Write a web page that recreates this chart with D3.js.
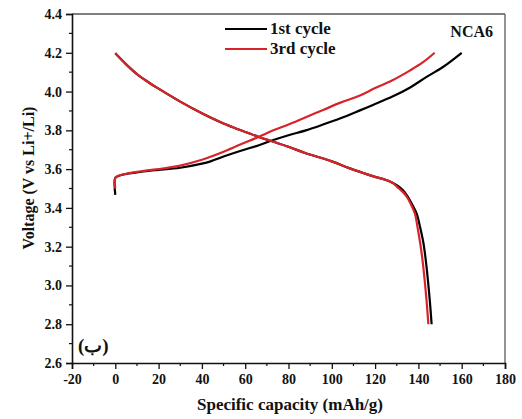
<!DOCTYPE html>
<html>
<head>
<meta charset="utf-8">
<script src="https://cdn.jsdelivr.net/npm/d3@7/dist/d3.min.js"></script>
<style>
  html, body { margin: 0; padding: 0; background: #fff; }
  svg { display: block; }
  text { font-family: "Liberation Serif", "Times New Roman", serif; font-weight: bold; fill: #111; }
</style>
</head>
<body>
<svg id="chart" width="522" height="419"></svg>
<script>
// Charge / discharge profiles (capacity in mAh/g, voltage in V)
const charge1Cap  = [0, 0, 1.5, 5, 10, 16, 20, 30, 40, 44, 50, 58, 66, 73, 80, 88, 96, 104, 113, 119, 128, 136, 144, 151.5, 160];
const charge1Volt = [3.467, 3.555, 3.565, 3.575, 3.583, 3.592, 3.596, 3.607, 3.628, 3.640, 3.665, 3.695, 3.722, 3.750, 3.775, 3.80, 3.83, 3.862, 3.903, 3.931, 3.974, 4.02, 4.077, 4.128, 4.20];

const charge3Cap  = [0, 0, 1.5, 5, 10, 16, 20, 30, 40, 44, 50, 58, 66, 73, 80, 88, 96, 104, 113, 120, 128, 136, 142, 147.5];
const charge3Volt = [3.50, 3.555, 3.566, 3.576, 3.586, 3.595, 3.60, 3.618, 3.648, 3.664, 3.69, 3.728, 3.765, 3.80, 3.83, 3.868, 3.905, 3.943, 3.98, 4.018, 4.058, 4.108, 4.15, 4.20];

const discharge1Cap  = [0, 5, 10, 16, 20, 30, 40, 50, 58, 66, 72, 80, 88, 100, 108, 115, 120, 125, 128, 131, 133, 135, 137, 139.2, 140.8, 142.3, 143.3, 144.1, 144.8, 145.5, 146.1];
const discharge1Volt = [4.197, 4.14, 4.09, 4.043, 4.015, 3.948, 3.888, 3.835, 3.80, 3.767, 3.745, 3.715, 3.682, 3.64, 3.605, 3.578, 3.56, 3.544, 3.53, 3.51, 3.49, 3.46, 3.42, 3.37, 3.30, 3.22, 3.14, 3.06, 2.98, 2.89, 2.80];

const discharge3Cap  = [0, 5, 10, 16, 20, 30, 40, 50, 58, 66, 72, 80, 88, 100, 108, 115, 120, 125, 128, 131, 133, 134.6, 136.5, 138.4, 139.6, 140.8, 141.8, 142.6, 143.3, 144.0, 144.6];
const discharge3Volt = [4.197, 4.14, 4.09, 4.043, 4.015, 3.948, 3.888, 3.835, 3.80, 3.767, 3.745, 3.715, 3.682, 3.64, 3.605, 3.578, 3.56, 3.544, 3.53, 3.50, 3.48, 3.458, 3.42, 3.37, 3.30, 3.22, 3.14, 3.06, 2.98, 2.89, 2.80];

const xTicks = [-20, 0, 20, 40, 60, 80, 100, 120, 140, 160, 180];
const yTicks = [2.6, 2.8, 3.0, 3.2, 3.4, 3.6, 3.8, 4.0, 4.2, 4.4];
const seriesNames = ["1st cycle", "3rd cycle"];
const seriesColors = ["#000000", "#d9232a"];

const svg = d3.select("#chart");
const L = 72, R = 505, T = 14, B = 363;

const x = d3.scaleLinear().domain([-20, 180]).range([L, R]);
const y = d3.scaleLinear().domain([2.6, 4.4]).range([B, T]);

// frame: top and right in grey
svg.append("line").attr("x1", L).attr("x2", R).attr("y1", T).attr("y2", T)
  .attr("stroke", "#555").attr("stroke-width", 1.4);
svg.append("line").attr("x1", R).attr("x2", R).attr("y1", T).attr("y2", B)
  .attr("stroke", "#666").attr("stroke-width", 1.4);

// minor ticks
const xMinor = d3.range(-10, 180, 20);
const yMinor = d3.range(2.7, 4.4, 0.2);
svg.append("g").selectAll("line").data(xMinor).join("line")
  .attr("x1", d => x(d)).attr("x2", d => x(d)).attr("y1", B).attr("y2", B + 3)
  .attr("stroke", "#111").attr("stroke-width", 1.2);
svg.append("g").selectAll("line").data(yMinor).join("line")
  .attr("y1", d => y(d)).attr("y2", d => y(d)).attr("x1", L).attr("x2", L - 3)
  .attr("stroke", "#111").attr("stroke-width", 1.2);

// axes (plain hyphen for negative numbers)
const xAxis = svg.append("g").attr("transform", `translate(0,${B})`)
  .call(d3.axisBottom(x).tickValues(xTicks).tickFormat(d => String(d)).tickSize(6).tickPadding(5));
const yAxis = svg.append("g").attr("transform", `translate(${L},0)`)
  .call(d3.axisLeft(y).tickValues(yTicks).tickFormat(d3.format(".1f")).tickSize(6).tickPadding(4));
[xAxis, yAxis].forEach(g => {
  g.select(".domain").attr("stroke", "#111").attr("stroke-width", 1.6);
  g.selectAll(".tick line").attr("stroke", "#111").attr("stroke-width", 1.3);
  g.selectAll(".tick text").attr("font-size", 14).attr("fill", "#222")
    .attr("font-family", "Liberation Serif, serif").attr("font-weight", "bold");
});

// curves
const line = d3.line().x(d => x(d[0])).y(d => y(d[1])).curve(d3.curveCatmullRom.alpha(0.5));
const zip = (a, b) => a.map((v, i) => [v, b[i]]);

const curves = [
  { pts: zip(charge1Cap, charge1Volt), c: seriesColors[0] },
  { pts: zip(discharge1Cap, discharge1Volt), c: seriesColors[0] },
  { pts: zip(charge3Cap, charge3Volt), c: seriesColors[1] },
  { pts: zip(discharge3Cap, discharge3Volt), c: seriesColors[1] }
];
svg.append("g").selectAll("path").data(curves).join("path")
  .attr("d", d => line(d.pts))
  .attr("fill", "none").attr("stroke", d => d.c).attr("stroke-width", 2.2)
  .attr("stroke-linejoin", "round");

// legend
const leg = svg.append("g");
seriesNames.forEach((name, i) => {
  const ly = 29 + i * 20;
  leg.append("line").attr("x1", 225).attr("x2", 267).attr("y1", ly).attr("y2", ly)
    .attr("stroke", seriesColors[i]).attr("stroke-width", 2.2);
  leg.append("text").attr("x", 270).attr("y", ly + 5).attr("font-size", 17).text(name);
});

// annotations
svg.append("text").attr("x", 493).attr("y", 37).attr("text-anchor", "end")
  .attr("font-size", 16).text("NCA6");
svg.append("text").attr("x", 78).attr("y", 352).attr("font-size", 19).text("(ب)");

// axis titles
svg.append("text").attr("x", 290).attr("y", 410).attr("text-anchor", "middle")
  .attr("font-size", 17).text("Specific capacity (mAh/g)");
svg.append("text").attr("transform", "translate(34,178) rotate(-90)")
  .attr("text-anchor", "middle").attr("font-size", 16).text("Voltage (V vs Li+/Li)");
</script>
</body>
</html>
